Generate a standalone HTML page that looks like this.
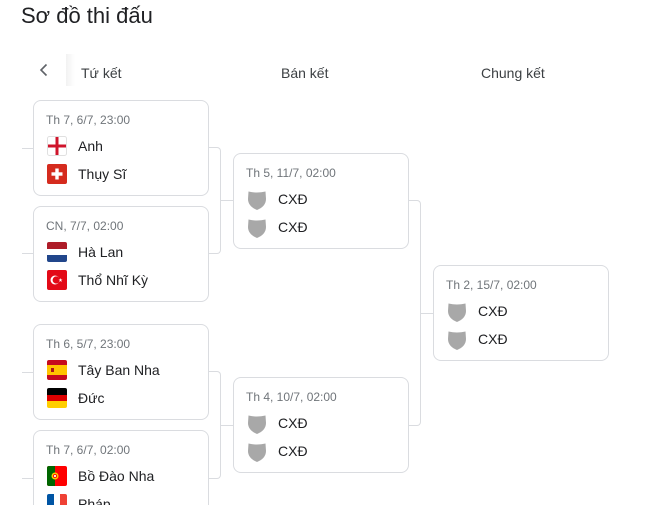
<!DOCTYPE html>
<html><head><meta charset="utf-8"><style>
*{margin:0;padding:0;box-sizing:border-box}
html,body{width:663px;height:505px;overflow:hidden;background:#fff}
body{position:relative;font-family:"Liberation Sans",Arial,sans-serif;color:#202124}
.abs{position:absolute}
.title{left:21px;top:3px;font-size:22px;line-height:26px;color:#202124;white-space:nowrap}
.hdr{font-size:14px;line-height:16px;top:65px;color:#3c4043;white-space:nowrap}
.card{position:absolute;width:176px;height:96px;border:1px solid #dadce0;border-radius:8px;background:#fff;z-index:2}
.date{position:absolute;left:12px;top:12px;font-size:12px;line-height:14px;color:#70757a;white-space:nowrap}
.flag{position:absolute;left:13px;width:20px;height:20px}
.name{position:absolute;left:44px;font-size:14px;line-height:16px;color:#202124;white-space:nowrap}
.r1f{top:35px}.r2f{top:63px}
.r1n{top:37px}.r2n{top:65px}
.br{position:absolute;border:1px solid #dadce0;border-left:none;border-radius:0 4px 4px 0;z-index:1}
.ln{position:absolute;height:1px;background:#dadce0;z-index:1}
</style></head><body>

<div class="abs title">Sơ đồ thi đấu</div>

<div class="abs" style="left:66px;top:54px;width:9px;height:32px;background:linear-gradient(to right,#f2f2f2,rgba(255,255,255,0))"></div>
<svg class="abs" style="left:36px;top:60px" width="16" height="20"><polyline points="10.5,4.5 5,10 10.5,15.5" fill="none" stroke="#5f6368" stroke-width="1.6"/></svg>

<div class="abs hdr" style="left:81px">Tứ kết</div>
<div class="abs hdr" style="left:281px">Bán kết</div>
<div class="abs hdr" style="left:481px">Chung kết</div>

<!-- left stubs -->
<div class="ln" style="left:22px;top:148px;width:12px"></div>
<div class="ln" style="left:22px;top:253px;width:12px"></div>
<div class="ln" style="left:22px;top:372px;width:12px"></div>
<div class="ln" style="left:22px;top:478px;width:12px"></div>

<!-- brackets -->
<div class="br" style="left:200px;top:147px;width:21px;height:107px"></div>
<div class="ln" style="left:220px;top:200px;width:14px"></div>
<div class="br" style="left:200px;top:371px;width:21px;height:108px"></div>
<div class="ln" style="left:220px;top:425px;width:14px"></div>
<div class="br" style="left:400px;top:200px;width:21px;height:226px"></div>
<div class="ln" style="left:420px;top:313px;width:14px"></div>

<!-- QF1 -->
<div class="card" style="left:33px;top:100px">
  <div class="date">Th 7, 6/7, 23:00</div>
  <svg class="flag r1f" viewBox="0 0 20 20"><rect x="0.5" y="0.5" width="19" height="19" rx="2" fill="#fff" stroke="#e0e0e0"/><rect x="8.5" y="1" width="3" height="18" fill="#cf142b"/><rect x="1" y="8.5" width="18" height="3" fill="#cf142b"/></svg>
  <div class="name r1n">Anh</div>
  <svg class="flag r2f" viewBox="0 0 20 20"><rect width="20" height="20" rx="2" fill="#d52b1e"/><rect x="8.3" y="4.5" width="3.4" height="11" fill="#fff"/><rect x="4.5" y="8.3" width="11" height="3.4" fill="#fff"/></svg>
  <div class="name r2n">Thụy Sĩ</div>
</div>

<!-- QF2 -->
<div class="card" style="left:33px;top:206px">
  <div class="date">CN, 7/7, 02:00</div>
  <svg class="flag r1f" viewBox="0 0 20 20"><rect y="0" width="20" height="7" rx="2" fill="#ae1c28"/><rect y="4" width="20" height="3" fill="#ae1c28"/><rect y="7" width="20" height="6" fill="#fff"/><rect y="13" width="20" height="7" rx="2" fill="#21468b"/><rect y="13" width="20" height="3" fill="#21468b"/></svg>
  <div class="name r1n">Hà Lan</div>
  <svg class="flag r2f" viewBox="0 0 20 20"><rect width="20" height="20" rx="2" fill="#e30a17"/><circle cx="8" cy="10" r="4.5" fill="#fff"/><circle cx="9.2" cy="10" r="3.6" fill="#e30a17"/><polygon points="13.5,8 14,9.5 15.5,9.5 14.3,10.4 14.8,12 13.5,11 12.2,12 12.7,10.4 11.5,9.5 13,9.5" fill="#fff"/></svg>
  <div class="name r2n">Thổ Nhĩ Kỳ</div>
</div>

<!-- QF3 -->
<div class="card" style="left:33px;top:324px">
  <div class="date">Th 6, 5/7, 23:00</div>
  <svg class="flag r1f" viewBox="0 0 20 20"><rect width="20" height="20" rx="2" fill="#c60b1e"/><rect y="5" width="20" height="10" fill="#ffc400"/><rect x="4" y="8" width="3" height="4" fill="#ad1519"/></svg>
  <div class="name r1n">Tây Ban Nha</div>
  <svg class="flag r2f" viewBox="0 0 20 20"><rect width="20" height="8" rx="2" fill="#000"/><rect y="4" width="20" height="3" fill="#000"/><rect y="7" width="20" height="6" fill="#dd0000"/><rect y="13" width="20" height="7" rx="2" fill="#ffce00"/><rect y="13" width="20" height="3" fill="#ffce00"/></svg>
  <div class="name r2n">Đức</div>
</div>

<!-- QF4 -->
<div class="card" style="left:33px;top:430px">
  <div class="date">Th 7, 6/7, 02:00</div>
  <svg class="flag r1f" viewBox="0 0 20 20"><rect width="20" height="20" rx="2" fill="#ff0000"/><rect width="8" height="20" rx="2" fill="#006600"/><rect x="4" width="4" height="20" fill="#006600"/><circle cx="8" cy="10" r="3.5" fill="#ffcc00"/><circle cx="8" cy="10" r="2" fill="#ff0000"/><circle cx="8" cy="10" r="1.1" fill="#fff"/></svg>
  <div class="name r1n">Bồ Đào Nha</div>
  <svg class="flag r2f" viewBox="0 0 20 20"><rect width="20" height="20" rx="2" fill="#fff"/><rect width="7" height="20" rx="2" fill="#0055a4"/><rect x="4" width="3" height="20" fill="#0055a4"/><rect x="13" width="7" height="20" rx="2" fill="#ef4135"/><rect x="13" width="3" height="20" fill="#ef4135"/></svg>
  <div class="name r2n">Pháp</div>
</div>

<!-- SF1 -->
<div class="card" style="left:233px;top:153px">
  <div class="date">Th 5, 11/7, 02:00</div>
  <svg class="flag r1f" style="left:14px;width:18px;top:36px" viewBox="0 0 18 20"><path d="M0.5,1.5 Q9,3.5 17.5,1.5 L18,9 C18,14.5 14,18 9,20 C4,18 0,14.5 0,9 Z" fill="#a8a8a8"/></svg>
  <div class="name r1n">CXĐ</div>
  <svg class="flag r2f" style="left:14px;width:18px;top:64px" viewBox="0 0 18 20"><path d="M0.5,1.5 Q9,3.5 17.5,1.5 L18,9 C18,14.5 14,18 9,20 C4,18 0,14.5 0,9 Z" fill="#a8a8a8"/></svg>
  <div class="name r2n">CXĐ</div>
</div>

<!-- SF2 -->
<div class="card" style="left:233px;top:377px">
  <div class="date">Th 4, 10/7, 02:00</div>
  <svg class="flag r1f" style="left:14px;width:18px;top:36px" viewBox="0 0 18 20"><path d="M0.5,1.5 Q9,3.5 17.5,1.5 L18,9 C18,14.5 14,18 9,20 C4,18 0,14.5 0,9 Z" fill="#a8a8a8"/></svg>
  <div class="name r1n">CXĐ</div>
  <svg class="flag r2f" style="left:14px;width:18px;top:64px" viewBox="0 0 18 20"><path d="M0.5,1.5 Q9,3.5 17.5,1.5 L18,9 C18,14.5 14,18 9,20 C4,18 0,14.5 0,9 Z" fill="#a8a8a8"/></svg>
  <div class="name r2n">CXĐ</div>
</div>

<!-- Final -->
<div class="card" style="left:433px;top:265px">
  <div class="date">Th 2, 15/7, 02:00</div>
  <svg class="flag r1f" style="left:14px;width:18px;top:36px" viewBox="0 0 18 20"><path d="M0.5,1.5 Q9,3.5 17.5,1.5 L18,9 C18,14.5 14,18 9,20 C4,18 0,14.5 0,9 Z" fill="#a8a8a8"/></svg>
  <div class="name r1n">CXĐ</div>
  <svg class="flag r2f" style="left:14px;width:18px;top:64px" viewBox="0 0 18 20"><path d="M0.5,1.5 Q9,3.5 17.5,1.5 L18,9 C18,14.5 14,18 9,20 C4,18 0,14.5 0,9 Z" fill="#a8a8a8"/></svg>
  <div class="name r2n">CXĐ</div>
</div>

</body></html>
